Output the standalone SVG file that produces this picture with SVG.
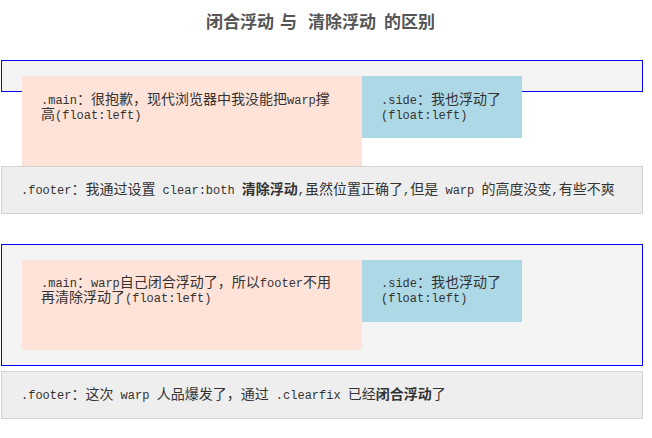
<svg xmlns="http://www.w3.org/2000/svg" width="652" height="438" viewBox="0 0 652 438">
<style>
.t{font-family:"Noto Sans CJK SC","Liberation Sans",sans-serif;font-size:14px;fill:#333;white-space:pre}
.m{font-family:"Liberation Mono","Noto Sans CJK SC",monospace;font-size:12px}
.b{font-weight:bold}
.title{font-family:"Noto Sans CJK SC","Liberation Sans",sans-serif;font-size:17px;font-weight:bold;fill:#555}
.wrap{fill:#f4f4f4;stroke:#0000ff;stroke-width:1}
.main{fill:#ffe3d8}
.side{fill:#add8e6}
.footer{fill:#eeeeee;stroke:#d3d3d3;stroke-width:1}
</style>
<rect width="652" height="438" fill="#ffffff"/>
<g id="title">
<text class="title" y="28"><tspan x="206">闭合浮动</tspan><tspan x="280">与</tspan><tspan x="308">清除浮动</tspan><tspan x="384">的区别</tspan></text>
</g>
<g id="section1">
<g id="wrap1"><rect class="wrap" x="1.5" y="60.5" width="641" height="31"/></g>
<g id="main1"><rect class="main" x="22" y="76" width="340" height="90"/>
<text class="t" x="41" y="104"><tspan class="m">.main</tspan>：很抱歉，现代浏览器中我没能把<tspan class="m">warp</tspan>撑</text>
<text class="t" x="41" y="119">高<tspan class="m">(float:left)</tspan></text>
</g>
<g id="side1"><rect class="side" x="362" y="76" width="160" height="62"/>
<text class="t" x="381" y="104"><tspan class="m">.side</tspan>：我也浮动了</text>
<text class="t" x="381" y="119"><tspan class="m">(float:left)</tspan></text>
</g>
<g id="footer1"><rect class="footer" x="1.5" y="166.5" width="641" height="47"/>
<text class="t" x="21" y="194"><tspan class="m">.footer</tspan>：我通过设置<tspan class="m"> clear:both </tspan><tspan class="b">清除浮动</tspan><tspan class="m">,</tspan>虽然位置正确了<tspan class="m">,</tspan>但是<tspan class="m"> warp </tspan>的高度没变<tspan class="m">,</tspan>有些不爽</text>
</g>
</g>
<g id="section2">
<g id="wrap2"><rect class="wrap" x="1.5" y="244.5" width="641" height="121"/></g>
<g id="main2"><rect class="main" x="22" y="260" width="340" height="90"/>
<text class="t" x="41" y="287"><tspan class="m">.main</tspan>：<tspan class="m">warp</tspan>自己闭合浮动了，所以<tspan class="m">footer</tspan>不用</text>
<text class="t" x="41" y="302">再清除浮动了<tspan class="m">(float:left)</tspan></text>
</g>
<g id="side2"><rect class="side" x="362" y="260" width="160" height="62"/>
<text class="t" x="381" y="287"><tspan class="m">.side</tspan>：我也浮动了</text>
<text class="t" x="381" y="302"><tspan class="m">(float:left)</tspan></text>
</g>
<g id="footer2"><rect class="footer" x="1.5" y="371.5" width="641" height="47"/>
<text class="t" x="21" y="399"><tspan class="m">.footer</tspan>：这次<tspan class="m"> warp </tspan>人品爆发了，通过<tspan class="m"> .clearfix </tspan>已经<tspan class="b">闭合浮动</tspan>了</text>
</g>
</g>
</svg>
